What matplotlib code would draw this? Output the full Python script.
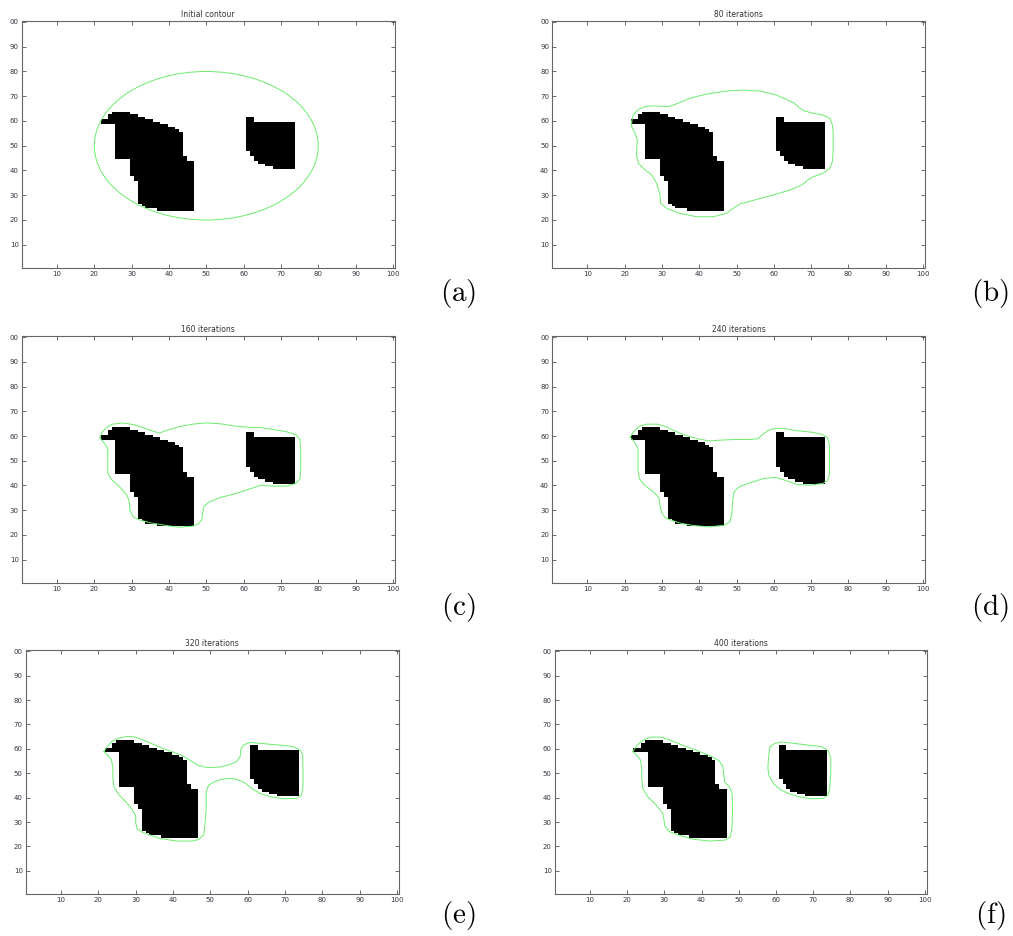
import numpy as np
import matplotlib
matplotlib.use('Agg')
import matplotlib.pyplot as plt
from matplotlib.patches import Circle

plt.rcParams['mathtext.fontset'] = 'cm'

# binary image: each object given column by column (x, lowest row, highest row)
big_x = [22, 23, 24, 25, 26, 27, 28, 29, 30, 31, 32, 33, 34, 35, 36, 37, 38, 39, 40, 41, 42, 43, 44, 45, 46]
big_lo = [59, 59, 59, 59, 45, 45, 45, 45, 38, 36, 27, 26, 25, 25, 25, 24, 24, 24, 24, 24, 24, 24, 24, 24, 24]
big_hi = [60, 60, 62, 63, 63, 63, 63, 63, 62, 62, 61, 61, 60, 60, 59, 59, 58, 58, 57, 57, 56, 55, 45, 43, 43]

small_x = [61, 62, 63, 64, 65, 66, 67, 68, 69, 70, 71, 72, 73]
small_lo = [48, 46, 44, 43, 43, 42, 42, 41, 41, 41, 41, 41, 41]
small_hi = [61, 61, 59, 59, 59, 59, 59, 59, 59, 59, 59, 59, 59]

titles = ['Initial contour', '80 iterations', '160 iterations',
          '240 iterations', '320 iterations', '400 iterations']
tags = ['a', 'b', 'c', 'd', 'e', 'f']

init_center = (50, 50)
init_radius = 30

c80_x = [21.9, 22.3, 23.7, 25.5, 27.7, 31.7, 33.9, 37.5, 42.0, 47.3, 51.8, 56.3, 60.7, 65.2,
         67.9, 70.6, 73.2, 75.0, 75.7, 75.9, 75.9, 75.7, 75.0, 73.2, 70.6, 69.2, 67.4, 64.3,
         59.8, 55.4, 50.9, 49.1, 47.3, 43.8, 39.3, 34.8, 31.3, 29.7, 29.5, 28.6, 27.3, 25.5,
         23.7, 23.2, 23.4, 22.8, 21.9]
c80_y = [59.7, 62.4, 64.7, 65.8, 66.1, 65.8, 66.9, 69.2, 70.9, 72.1, 72.5, 72.1, 70.5, 67.4,
         64.2, 63.1, 62.4, 61.1, 58.4, 55.0, 48.3, 43.6, 40.9, 38.9, 37.5, 36.2, 34.1, 32.1,
         30.1, 28.3, 26.5, 24.7, 22.7, 21.3, 21.3, 22.7, 24.7, 26.7, 30.1, 34.8, 38.2, 40.2,
         42.9, 46.3, 52.3, 55.0, 57.7]

c160_x = [21.5, 22.2, 23.6, 24.9, 27.6, 29.8, 32.0, 34.7, 37.4, 39.2, 42.7, 46.3, 49.9, 53.5,
          57.9, 61.5, 64.2, 67.7, 71.3, 74.0, 75.1, 75.3, 75.3, 75.1, 74.0, 71.3, 67.7, 64.6,
          61.5, 57.9, 53.5, 50.8, 49.4, 49.0, 48.8, 47.9, 46.3, 42.7, 39.2, 35.2, 32.0, 30.4,
          29.5, 29.4, 28.9, 27.6, 25.8, 24.4, 23.6, 23.6, 23.6, 22.9, 21.8]
c160_y = [59.5, 61.8, 63.8, 64.8, 65.3, 64.8, 64.0, 62.5, 61.2, 62.2, 63.8, 64.8, 65.3, 65.0,
          64.0, 63.5, 63.5, 62.7, 61.8, 60.6, 58.6, 53.5, 47.1, 42.7, 40.8, 39.7, 39.7, 40.1,
          38.5, 36.7, 35.0, 33.3, 31.5, 28.6, 26.1, 24.4, 23.5, 23.1, 23.8, 24.8, 26.1, 27.3,
          29.9, 33.1, 35.6, 38.2, 40.8, 42.7, 45.2, 49.7, 54.8, 56.7, 58.6]

c240_x = [21.5, 22.4, 24.0, 25.8, 28.9, 31.1, 33.8, 36.5, 39.6, 42.7, 46.3, 49.9, 53.5, 55.7,
          57.0, 58.4, 60.2, 62.4, 66.0, 70.4, 73.1, 74.4, 74.9, 74.9, 74.9, 74.4, 73.1, 69.5,
          66.0, 63.3, 60.2, 57.0, 53.5, 50.8, 49.4, 49.0, 48.8, 48.3, 46.8, 42.7, 38.3, 34.7,
          31.1, 30.0, 29.5, 29.2, 27.6, 25.3, 24.0, 23.6, 23.6, 23.6, 22.7]
c240_y = [59.5, 61.8, 64.0, 64.8, 64.8, 63.8, 61.8, 60.2, 58.9, 58.0, 58.4, 58.6, 58.6, 58.9,
          60.6, 62.2, 63.1, 63.1, 62.2, 61.5, 60.6, 59.3, 56.1, 49.7, 44.6, 42.0, 40.8, 40.1,
          40.5, 42.0, 43.3, 42.7, 41.0, 39.5, 37.6, 34.4, 29.2, 25.4, 23.9, 23.2, 23.8, 24.8,
          26.7, 28.6, 31.8, 35.0, 37.6, 40.1, 42.7, 45.9, 50.3, 54.8, 57.4]

c320_x = [21.5, 22.4, 23.7, 25.5, 27.7, 30.0, 32.2, 34.8, 38.4, 42.0, 44.6, 46.8, 49.1, 52.6,
          55.3, 57.1, 58.0, 58.1, 58.8, 60.6, 63.7, 68.6, 72.2, 74.0, 74.7, 74.8, 74.8, 74.4,
          73.1, 69.5, 66.0, 63.3, 61.1, 59.3, 57.1, 55.3, 52.6, 50.8, 49.5, 48.9, 48.9, 48.6,
          48.2, 46.8, 45.1, 41.1, 36.6, 34.0, 31.7, 30.4, 30.0, 30.0, 29.1, 27.3, 25.5, 24.2,
          23.9, 23.9, 23.5, 22.4]
c320_y = [58.9, 60.9, 63.1, 64.4, 65.1, 64.8, 63.5, 61.8, 59.5, 57.6, 55.2, 53.2, 52.3, 52.5,
          53.6, 54.9, 56.9, 59.5, 61.5, 62.6, 62.2, 61.5, 60.9, 59.5, 57.6, 51.0, 44.4, 41.1,
          39.7, 39.5, 40.4, 41.7, 43.7, 46.0, 47.5, 47.9, 47.4, 46.3, 45.0, 42.4, 36.4, 29.8,
          24.6, 22.8, 22.2, 22.2, 23.2, 24.6, 25.9, 27.2, 29.8, 32.5, 35.1, 38.4, 41.1, 44.4,
          47.7, 52.3, 55.6, 57.6]

c400a_x = [21.5, 22.6, 24.2, 26.4, 29.1, 31.7, 34.8, 38.4, 42.0, 44.6, 45.7, 46.0, 46.2, 47.5,
           48.2, 48.3, 48.2, 47.7, 46.4, 42.0, 37.5, 34.0, 31.3, 30.1, 29.8, 29.5, 27.7, 25.5,
           24.2, 23.9, 23.9, 23.5, 22.4]
c400a_y = [58.9, 61.3, 63.5, 64.8, 64.8, 63.5, 61.5, 59.5, 57.3, 55.2, 52.9, 49.0, 46.3, 44.4,
           41.7, 35.1, 28.5, 23.9, 22.6, 22.2, 23.0, 24.6, 26.1, 28.5, 31.8, 33.8, 37.1, 40.4,
           43.7, 47.7, 52.3, 55.6, 57.6]
c400b_x = [58.4, 59.7, 61.5, 65.1, 68.6, 72.2, 74.0, 74.7, 74.7, 74.4, 74.0, 72.6, 69.5, 66.0,
           63.3, 61.1, 59.3, 58.1, 57.8, 58.0]
c400b_y = [60.9, 62.2, 62.8, 62.2, 61.5, 60.9, 59.3, 56.2, 49.6, 43.7, 41.1, 39.7, 39.5, 40.4,
           41.7, 43.3, 45.7, 49.0, 52.3, 56.9]

contours = [None,
            [(c80_x, c80_y)],
            [(c160_x, c160_y)],
            [(c240_x, c240_y)],
            [(c320_x, c320_y)],
            [(c400a_x, c400a_y), (c400b_x, c400b_y)]]

img = np.zeros((100, 100))
for xs, los, his in [(big_x, big_lo, big_hi), (small_x, small_lo, small_hi)]:
    for x, lo, hi in zip(xs, los, his):
        img[lo - 1:hi, x - 1] = 1

W, H = 1013, 936
# axes boxes in pixels: left, top, right, bottom
boxes = [(21.5, 20.75, 394.8, 268.25), (551.8, 20.75, 925.0, 268.25),
         (21.5, 336.0, 394.8, 583.0), (551.8, 336.0, 925.0, 583.0),
         (25.5, 650.0, 399.0, 894.0), (554.6, 650.0, 926.8, 894.0)]
tag_pos = [(458, 294), (990, 294), (458, 607), (990, 607), (458, 915), (990, 915)]

fig = plt.figure(figsize=(W / 100, H / 100), dpi=100)
green = '#6cec6c'
for i in range(6):
    l, t, r, b = boxes[i]
    ax = fig.add_axes([l / W, 1 - b / H, (r - l) / W, (b - t) / H])
    ax.imshow(img, cmap='gray_r', origin='lower', extent=(0.5, 100.5, 0.5, 100.5),
              interpolation='nearest', aspect='auto', vmin=0, vmax=1)
    if contours[i] is None:
        ax.add_patch(Circle(init_center, init_radius, fill=False, color=green, lw=0.7))
    else:
        for cx, cy in contours[i]:
            ax.plot(cx + cx[:1], cy + cy[:1], color=green, lw=0.7)
    ax.set_xlim(0.5, 100.5)
    ax.set_ylim(0.5, 100.5)
    ax.set_xticks(range(10, 101, 10))
    ax.set_yticks(range(10, 101, 10))
    ax.set_xticklabels([str(v) for v in range(10, 101, 10)])
    ax.set_yticklabels([str(v) for v in range(10, 100, 10)] + ['00'])
    ax.tick_params(direction='in', length=3, width=0.6, color='#555555', top=True, right=True,
                   labelsize=5, labelcolor='#333340', pad=2)
    for s in ax.spines.values():
        s.set_color('#666666')
        s.set_linewidth(0.8)
    ax.set_title(titles[i], fontsize=5.5, color='#333333', pad=3)
    fig.text(tag_pos[i][0] / W, 1 - tag_pos[i][1] / H, r'$\mathrm{(%s)}$' % tags[i],
             fontsize=21, ha='center', va='center')

fig.savefig('out.png', dpi=100)
